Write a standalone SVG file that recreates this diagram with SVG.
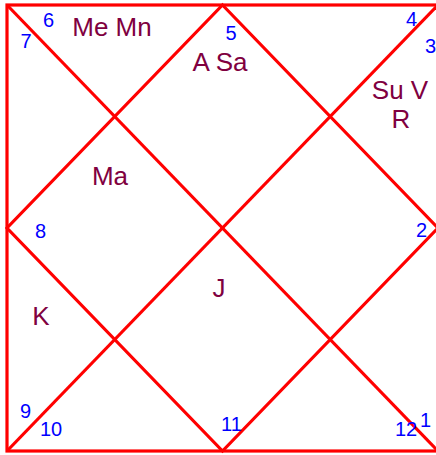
<svg xmlns="http://www.w3.org/2000/svg" width="436" height="455" viewBox="0 0 436 455">
<style>
.ln{stroke:#ff0000;stroke-width:3.2;fill:none;stroke-linejoin:miter}
.n{font-family:"Liberation Sans",Arial,sans-serif;font-size:20px;fill:#0000ff}
.p{font-family:"Liberation Sans",Arial,sans-serif;font-size:26px;fill:#800040;text-anchor:middle}
</style>
<rect width="436" height="455" fill="#ffffff"/>
<g id="connectors">
<rect class="ln" x="7" y="5" width="431" height="446"/>
<line class="ln" x1="7" y1="5" x2="438" y2="451"/>
<line class="ln" x1="438" y1="5" x2="7" y2="451"/>
<polygon class="ln" points="222.5,5 438,228 222.5,451 7,228"/>
</g>
<g id="house1"><text class="n" x="420" y="427">1</text></g>
<g id="house2"><text class="n" x="416" y="237">2</text></g>
<g id="house3"><text class="n" x="425" y="53">3</text></g>
<g id="house4"><text class="n" x="406" y="26">4</text><text class="p" x="400" y="99">Su V</text><text class="p" x="401" y="128">R</text></g>
<g id="house5"><text class="n" x="225.5" y="40">5</text><text class="p" x="220" y="71">A Sa</text></g>
<g id="house6"><text class="n" x="43" y="27">6</text><text class="p" x="112" y="36">Me Mn</text></g>
<g id="house7"><text class="n" x="20.5" y="48">7</text></g>
<g id="house8"><text class="n" x="35" y="238">8</text><text class="p" x="110" y="185">Ma</text></g>
<g id="house9"><text class="n" x="20" y="418">9</text><text class="p" x="41" y="325">K</text></g>
<g id="house10"><text class="n" x="40" y="436">10</text></g>
<g id="house11"><text class="n" x="221" y="431">11</text><text class="p" x="219" y="297">J</text></g>
<g id="house12"><text class="n" x="395" y="436">12</text></g>
</svg>
